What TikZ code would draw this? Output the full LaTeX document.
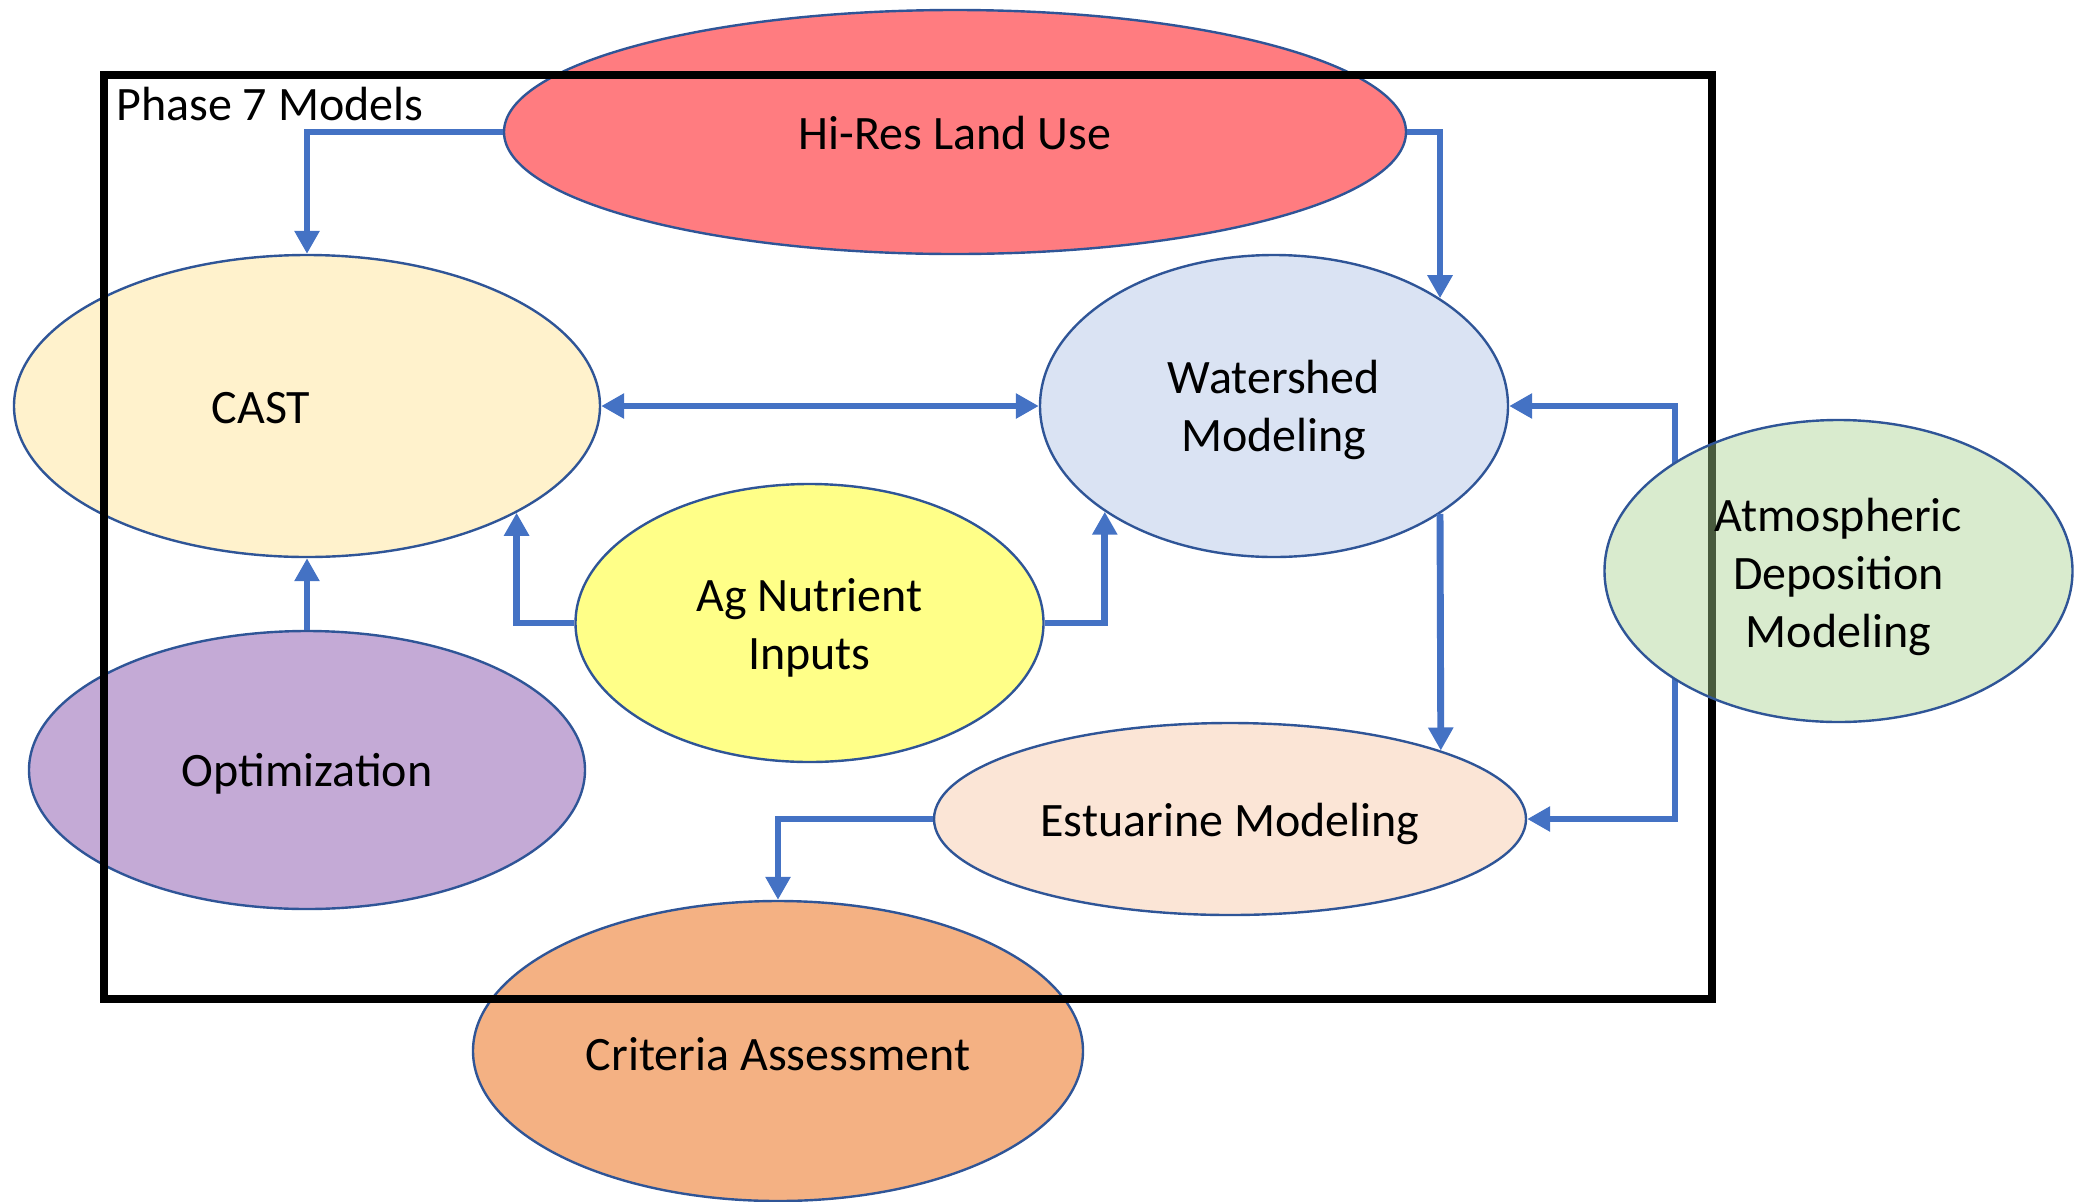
\documentclass[tikz,border=0pt]{standalone}
\usepackage{fontspec}
\setmainfont{Carlito}
\usetikzlibrary{arrows.meta,shapes.geometric}
\definecolor{edgeblue}{HTML}{2F5597}
\definecolor{linkblue}{HTML}{4472C4}
\definecolor{cred}{HTML}{FF7C80}
\definecolor{ccast}{HTML}{FFF2CC}
\definecolor{cws}{HTML}{DAE3F3}
\definecolor{cag}{HTML}{FFFF88}
\definecolor{catm}{HTML}{A9D18E}
\definecolor{copt}{HTML}{C4AAD6}
\definecolor{cest}{HTML}{FBE5D6}
\definecolor{ccrit}{HTML}{F4B183}
\begin{document}
\begin{tikzpicture}[x=0.5pt,y=-0.5pt,
  oval/.style={ellipse, draw=edgeblue, line width=1.2pt, inner sep=0pt},
  lbl/.style={inner sep=0pt, align=center, font=\fontsize{24}{29}\selectfont},
  tip/.tip={Triangle[length=11.5pt,width=12pt]},
  link/.style={draw=linkblue, line width=3.45pt, -tip},
  twolink/.style={draw=linkblue, line width=3.45pt, tip-tip}]
\useasboundingbox (0,0) rectangle (2074,1201);
% ellipses
\node[oval, fill=cred, minimum width=451pt, minimum height=122pt] (hl) at (955,132) {};
\node[lbl] (hlt) at (955,133) {Hi-Res Land Use};
\node[oval, fill=ccast, minimum width=293pt, minimum height=151pt] (cast) at (307,406) {};
\node[lbl] (castt) at (261,408) {CAST};
\node[oval, fill=cws, minimum width=234pt, minimum height=151pt] (ws) at (1274,406) {};
\node[lbl] (wst) at (1274,410) {Watershed\\Modeling};
\node[oval, fill=cag, minimum width=234pt, minimum height=139pt] (ag) at (809.5,623) {};
\node[lbl] (agt) at (809.5,628) {Ag Nutrient\\Inputs};
\node[oval, fill=copt, minimum width=278pt, minimum height=139pt] (opt) at (307,770) {};
\node[lbl] (optt) at (307,774) {Optimization};
\node[oval, fill=cest, minimum width=296pt, minimum height=96pt] (est) at (1230,819) {};
\node[lbl] (estt) at (1230,824) {Estuarine Modeling};
\node[oval, fill=ccrit, minimum width=305pt, minimum height=150pt] (crit) at (778,1051) {};
\node[lbl] (critt) at (778,1054) {Criteria Assessment};
% connectors
\coordinate (atml) at (1675,571);
\draw[link] (hl.west) -| (cast.north);
\draw[link] (hl.east) -| (ws.33);
\draw[twolink] (cast.east) -- (ws.west);
\draw[link] (ag.west) -| (cast.-27.2);
\draw[link] (ag.east) -| (ws.212.7);
\draw[link] (opt.north) -- (cast.south);
\draw[link] (ws.-33) -- (est.18);
\draw[link] (atml) |- (ws.east);
\draw[link] (atml) |- (est.east);
\draw[link] (est.west) -| (crit.north);
% backdrop for atmospheric ellipse
\node[ellipse, fill=white, inner sep=0pt, minimum width=234pt, minimum height=151pt] (atmbg) at (1838.5,571) {};
% frame
\node[draw=black, line width=4pt, inner sep=0pt, minimum width=804pt, minimum height=462pt] (frame) at (907.5,537) {};
\node[lbl, anchor=base west] (title) at (116,120) {Phase 7 Models};
% atmospheric ellipse (translucent)
\node[oval, fill=catm, fill opacity=0.43, minimum width=234pt, minimum height=151pt] (atm) at (1838.5,571) {};
\node[lbl] (atmt) at (1838.5,577) {Atmospheric\\Deposition\\Modeling};
\end{tikzpicture}
\end{document}
